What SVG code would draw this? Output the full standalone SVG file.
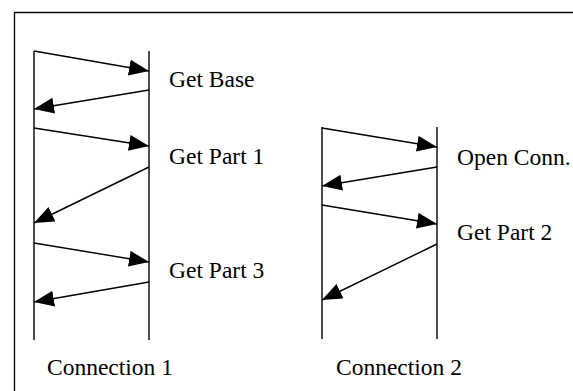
<svg xmlns="http://www.w3.org/2000/svg" width="573" height="391" viewBox="0 0 573 391">
  <style>
    .frame { fill: none; stroke: #000; stroke-width: 1.3; }
    .life { stroke: #000; stroke-width: 1.4; fill: none; }
    .msg { stroke: #000; stroke-width: 1.4; fill: none; marker-end: url(#head); }
  </style>
  <defs>
    <marker id="head" markerUnits="userSpaceOnUse" markerWidth="21" markerHeight="17" refX="20" refY="8" orient="auto">
      <path d="M0,0 L20,8 L0,16 Z" fill="#000"/>
    </marker>
  </defs>
  <rect width="573" height="391" fill="#fff"/>
  <path class="frame" d="M14.5,391 V12.5 H573"/>

  <g id="connection-1">
    <line class="life" x1="34" y1="51" x2="34" y2="340"/>
    <line class="life" x1="149" y1="51" x2="149" y2="340"/>
    <text x="47" y="375" font-family="Liberation Serif" font-size="23.5">Connection 1</text>
  </g>

  <g id="connection-2">
    <line class="life" x1="322" y1="127" x2="322" y2="339"/>
    <line class="life" x1="437" y1="127" x2="437" y2="339"/>
    <text x="336" y="375" font-family="Liberation Serif" font-size="23.5">Connection 2</text>
  </g>

  <g id="labels" font-family="Liberation Serif" font-size="23.5">
    <text x="169" y="87">Get Base</text>
    <text x="169" y="164">Get Part 1</text>
    <text x="169" y="278">Get Part 3</text>
    <text x="457" y="165">Open Conn.</text>
    <text x="457" y="240">Get Part 2</text>
  </g>

  <g id="connectors">
    <line class="msg" x1="34" y1="51" x2="149" y2="71"/>
    <line class="msg" x1="149" y1="90" x2="34" y2="109"/>
    <line class="msg" x1="34" y1="128" x2="149" y2="146"/>
    <line class="msg" x1="149" y1="167" x2="34" y2="223"/>
    <line class="msg" x1="34" y1="243" x2="149" y2="262"/>
    <line class="msg" x1="149" y1="282" x2="34" y2="302"/>

    <line class="msg" x1="322" y1="128" x2="437" y2="147"/>
    <line class="msg" x1="437" y1="167" x2="322" y2="186"/>
    <line class="msg" x1="322" y1="205" x2="437" y2="224"/>
    <line class="msg" x1="437" y1="244" x2="322" y2="300"/>
  </g>
</svg>
